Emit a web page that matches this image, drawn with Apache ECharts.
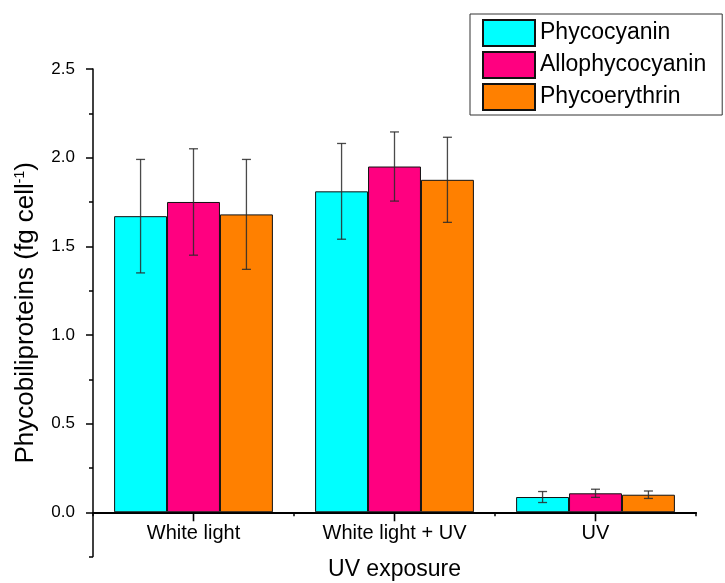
<!DOCTYPE html>
<html>
<head>
<meta charset="utf-8">
<script src="https://cdn.jsdelivr.net/npm/echarts@6/dist/echarts.min.js"></script>
<style>
  html, body { margin: 0; padding: 0; background: #fff; }
  #chart { width: 725px; height: 583px; }
</style>
</head>
<body>
<div id="chart"></div>
<script>
// Phycobiliprotein content per cell under three light treatments
const categories = ['White light', 'White light + UV', 'UV'];
const seriesNames = ['Phycocyanin', 'Allophycocyanin', 'Phycoerythrin'];

const phycocyanin     = [1.67, 1.81, 0.086];
const allophycocyanin = [1.75, 1.95, 0.107];
const phycoerythrin   = [1.68, 1.875, 0.099];

const phycocyaninErr     = [0.32, 0.27, 0.031];
const allophycocyaninErr = [0.30, 0.195, 0.023];
const phycoerythrinErr   = [0.31, 0.24, 0.021];

const yMajorTicks = [0, 0.5, 1.0, 1.5, 2.0, 2.5];
const yMinorTicks = [-0.25, 0.25, 0.75, 1.25, 1.75, 2.25];

const colors = ['#00FFFF', '#FF0080', '#FF8000'];
const values = [phycocyanin, allophycocyanin, phycoerythrin];
const errors = [phycocyaninErr, allophycocyaninErr, phycoerythrinErr];

const FONT = 'Liberation Sans, Arial, sans-serif';
const CAT_GAP = 0.21;

// Plot frame; the value axis runs a little below zero, the category axis sits on zero
const Y_MIN = -0.25, Y_MAX = 2.5;
const GRID = { left: 93, right: 29, top: 69, bottom: 26.4 };
const gridH = 583 - GRID.top - GRID.bottom;
const zeroLift = gridH * (0 - Y_MIN) / (Y_MAX - Y_MIN);

const barSeries = seriesNames.map((name, i) => ({
  name: name,
  type: 'bar',
  xAxisIndex: 0,
  yAxisIndex: 0,
  data: values[i],
  barGap: 0,
  barCategoryGap: (CAT_GAP * 100) + '%',
  itemStyle: { color: colors[i], borderColor: '#111', borderWidth: 1 },
  z: 2
}));

// Error bars drawn as I-beams centred on each bar; the middle series also
// marks its group centre with a longer tick below the category axis
const errorSeries = seriesNames.map((name, i) => ({
  type: 'custom',
  name: name + ' error',
  xAxisIndex: 0,
  yAxisIndex: 0,
  z: 5,
  silent: true,
  clip: false,
  data: categories.map((c, j) => [j, values[i][j] - errors[i][j], values[i][j] + errors[i][j]]),
  renderItem: function (params, api) {
    const band = api.size([1, 0])[0];
    const barW = band * (1 - CAT_GAP) / seriesNames.length;
    const off = (i - (seriesNames.length - 1) / 2) * barW;
    const lo = api.coord([api.value(0), api.value(1)]);
    const hi = api.coord([api.value(0), api.value(2)]);
    const base = api.coord([api.value(0), 0]);
    const x = lo[0] + off;
    const cap = 4.5;
    const st = { stroke: '#2a2a2a', lineWidth: 1.3, opacity: 0.85 };
    const children = [
      { type: 'line', shape: { x1: x, y1: lo[1], x2: x, y2: hi[1] }, style: st },
      { type: 'line', shape: { x1: x - cap, y1: lo[1], x2: x + cap, y2: lo[1] }, style: st },
      { type: 'line', shape: { x1: x - cap, y1: hi[1], x2: x + cap, y2: hi[1] }, style: st }
    ];
    if (i === 1) {
      children.push({
        type: 'rect',
        shape: { x: base[0] - 0.8, y: base[1], width: 1.6, height: 9 },
        style: { fill: '#000' }
      });
    }
    return { type: 'group', children: children };
  }
}));

const chart = echarts.init(document.getElementById('chart'), null, { renderer: 'canvas' });
chart.setOption({
  animation: false,
  backgroundColor: '#fff',
  textStyle: { fontFamily: FONT, color: '#000' },
  grid: Object.assign({ outerBoundsMode: 'none', containLabel: false }, GRID),
  legend: {
    data: seriesNames,
    orient: 'vertical',
    left: 470,
    top: 14,
    icon: 'rect',
    itemWidth: 52,
    itemHeight: 26,
    itemGap: 4,
    padding: [5, 16, 4, 12],
    borderColor: '#333',
    borderWidth: 1,
    textStyle: { fontFamily: FONT, fontSize: 23, color: '#000' }
  },
  xAxis: {
    type: 'category',
    data: categories,
    position: 'bottom',
    offset: -zeroLift,
    name: 'UV exposure',
    nameLocation: 'middle',
    nameGap: 46,
    nameTextStyle: { fontFamily: FONT, fontSize: 23, color: '#000' },
    axisLine: { onZero: false, lineStyle: { color: '#000', width: 2.2 } },
    axisTick: { show: true, interval: 0, length: 4, lineStyle: { color: '#000', width: 1.5 } },
    axisLabel: { fontFamily: FONT, fontSize: 20, color: '#000', margin: 11 },
    splitLine: { show: false }
  },
  yAxis: [
    {
      type: 'value',
      position: 'left',
      min: Y_MIN,
      max: Y_MAX,
      name: '{a|Phycobiliproteins (fg cell}{s|-1}{a|)}',
      nameLocation: 'middle',
      nameGap: 54,
      nameRotate: 90,
      nameTextStyle: {
        fontFamily: FONT,
        fontSize: 26,
        color: '#000',
        rich: {
          a: { fontFamily: FONT, fontSize: 26, color: '#000' },
          s: { fontFamily: FONT, fontSize: 14, color: '#000', verticalAlign: 'top' }
        }
      },
      axisLine: { show: true, onZero: false, lineStyle: { color: '#000', width: 1.5 } },
      axisTick: { show: true, length: 7, customValues: yMajorTicks, lineStyle: { color: '#000', width: 1.5 } },
      axisLabel: {
        customValues: yMajorTicks,
        fontFamily: FONT, fontSize: 17, color: '#000', margin: 18,
        formatter: v => Number(v).toFixed(1)
      },
      splitLine: { show: false }
    },
    {
      type: 'value',
      position: 'left',
      min: Y_MIN,
      max: Y_MAX,
      axisLine: { show: false, onZero: false },
      axisTick: { show: true, length: 4, customValues: yMinorTicks, lineStyle: { color: '#000', width: 1.5 } },
      axisLabel: { show: false },
      splitLine: { show: false }
    }
  ],
  series: barSeries.concat(errorSeries)
});
</script>
</body>
</html>
